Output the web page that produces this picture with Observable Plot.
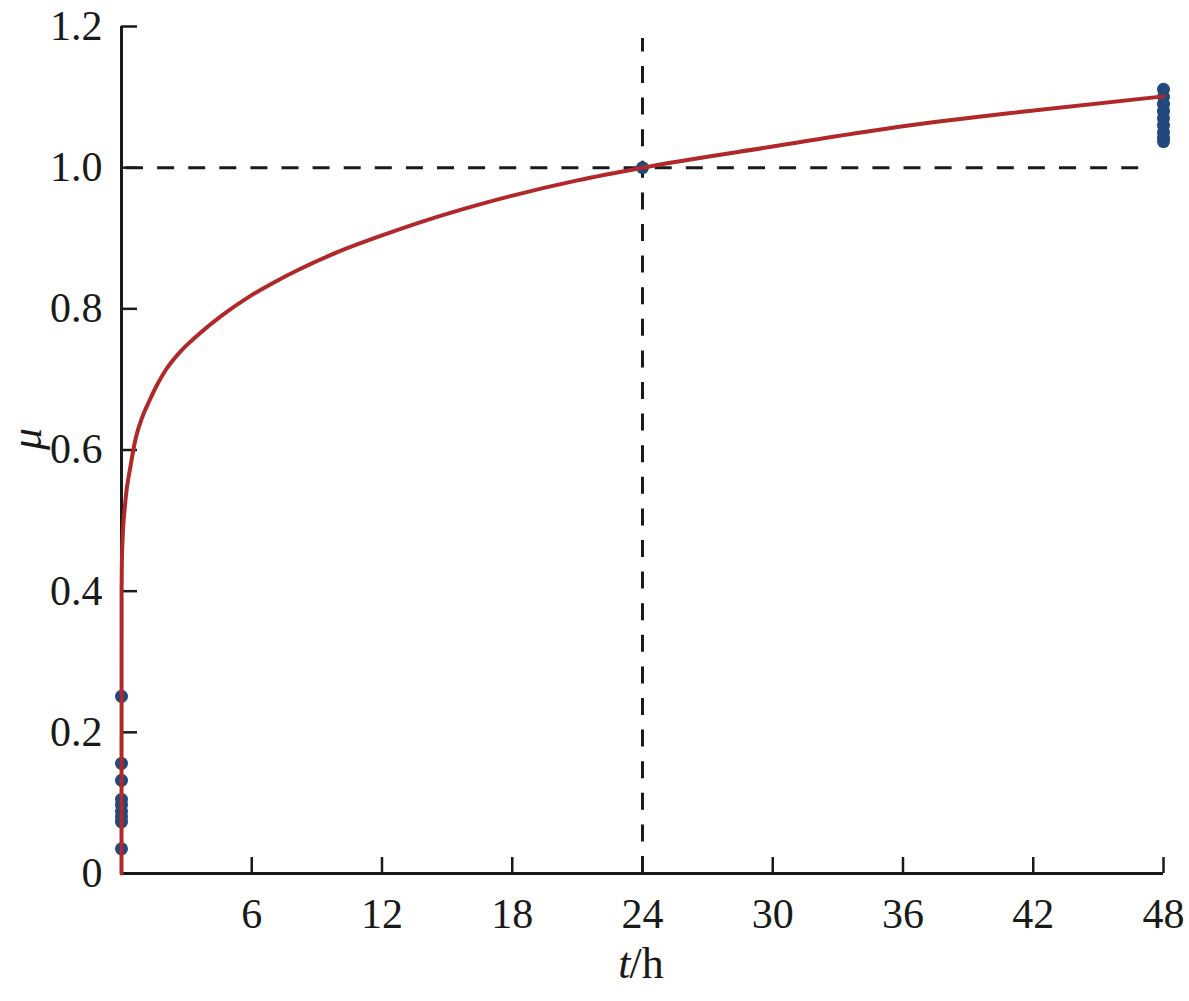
<!DOCTYPE html>
<html><head><meta charset="utf-8">
<script src="https://cdn.jsdelivr.net/npm/d3@7"></script>
<script src="https://cdn.jsdelivr.net/npm/@observablehq/plot@0.6"></script>
<style>body{margin:0;background:#fff}</style>
</head><body><div id="chart"></div>
<script>
// Fitted curve, values
const curveT  = [0, 0.005, 0.03, 0.18, 0.41, 0.65, 0.95, 1.26, 1.6, 2.03, 2.7, 3.56, 4.6, 5.87, 7.0, 8.2, 10.0, 12.0, 14.0, 16.5, 21.0, 24.0, 30.0, 35.6, 41.7, 48.0];
const curveMu = [0, 0.40, 0.458, 0.528, 0.576, 0.616, 0.646, 0.668, 0.690, 0.713, 0.739, 0.764, 0.790, 0.817, 0.837, 0.856, 0.881, 0.904, 0.925, 0.948, 0.982, 1.0, 1.030, 1.057, 1.080, 1.101];
// Measured points
const dotT  = [0, 0, 0, 0, 0, 0, 0, 0, 0, 24, 48, 48, 48, 48, 48, 48, 48, 48, 48];
const dotMu = [0.251, 0.156, 0.132, 0.105, 0.097, 0.088, 0.080, 0.073, 0.035, 1.0, 1.111, 1.100, 1.090, 1.080, 1.070, 1.060, 1.050, 1.042, 1.037];
const xTicks = [6, 12, 18, 24, 30, 36, 42, 48];
const yTicks = [0, 0.2, 0.4, 0.6, 0.8, 1.0, 1.2];
const xDomain = [0, 48];
const yDomain = [0, 1.2];
const refT = 24, refMu = 1.0, refHEnd = 46.9, refVTop = 1.183;
const xLabelParts = ["t", "/h"];
const yLabel = "μ";

const curve = curveT.map((t, i) => ({t, mu: curveMu[i]}));
const dots = dotT.map((t, i) => ({t, mu: dotMu[i]}));
const ink = "#1a1a1a";

const chart = Plot.plot({
  width: 1189,
  height: 1001,
  marginLeft: 121,
  marginRight: 26,
  marginTop: 26,
  marginBottom: 128,
  style: {fontFamily: "'Liberation Serif', 'Times New Roman', serif", fontSize: "42px", color: ink, background: "#fff"},
  x: {domain: xDomain},
  y: {domain: yDomain},
  marks: [
    Plot.ruleY([refMu], {x1: xDomain[0], x2: refHEnd, stroke: ink, strokeWidth: 3, strokeDasharray: "17,14.1", strokeDashoffset: -5}),
    Plot.ruleX([refT], {y1: yDomain[0], y2: refVTop, stroke: ink, strokeWidth: 3, strokeDasharray: "17,14.6"}),
    Plot.ruleY([yDomain[0]], {stroke: ink, strokeWidth: 3}),
    Plot.ruleX([xDomain[0]], {stroke: ink, strokeWidth: 3}),
    Plot.axisX(xTicks, {anchor: "bottom", tickSize: -16, text: null, label: null, strokeWidth: 2.5, stroke: ink}),
    Plot.axisX(xTicks, {anchor: "bottom", tickSize: 0, tickPadding: 25, label: null, fill: ink}),
    Plot.axisY(yTicks, {anchor: "left", tickSize: -16, text: null, label: null, strokeWidth: 2.5, stroke: ink}),
    Plot.axisY(yTicks, {anchor: "left", tickSize: 0, tickPadding: 19, label: null, fill: ink,
      tickFormat: d => d === 0 ? "0" : d.toFixed(1)}),
    Plot.dot(dots, {x: "t", y: "mu", r: 6.5, fill: "#22497e", stroke: "none"}),
    Plot.line(curve, {x: "t", y: "mu", stroke: "#b0282a", strokeWidth: 4, curve: "monotone-x"}),
    Plot.text([yLabel], {text: d => d, frameAnchor: "left", dx: -95, rotate: -90, fontStyle: "italic", fontSize: 44, fill: ink}),
    Plot.text([xLabelParts[0]], {text: d => d, frameAnchor: "bottom", dy: 104, dx: -12, textAnchor: "end", fontStyle: "italic", fontSize: 44, fill: ink}),
    Plot.text([xLabelParts[1]], {text: d => d, frameAnchor: "bottom", dy: 104, dx: -13, textAnchor: "start", fontSize: 44, fill: ink})
  ]
});
document.getElementById("chart").appendChild(chart);
</script>
</body></html>
